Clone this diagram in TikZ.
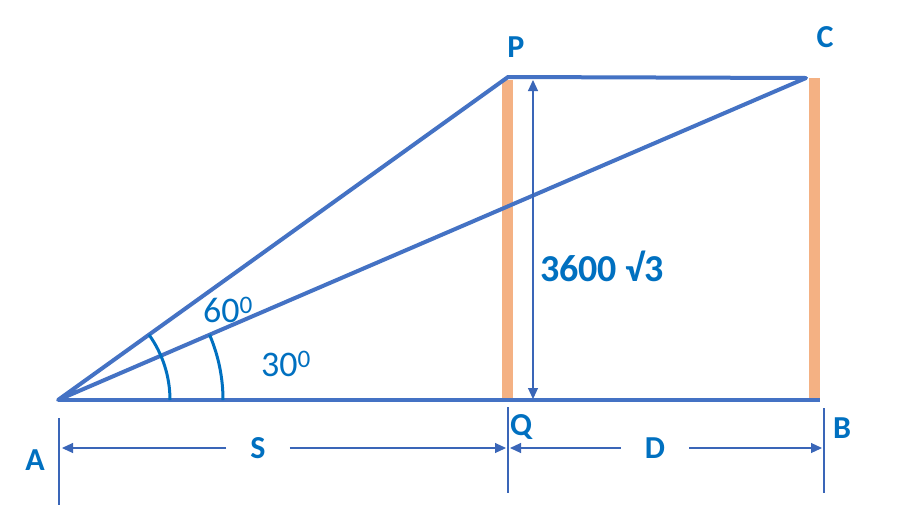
\documentclass[tikz,border=0pt]{standalone}
\usepackage{fontspec}
\setmainfont{Carlito}
\usetikzlibrary{arrows.meta}
\definecolor{lineblue}{HTML}{4472C4}
\definecolor{textblue}{HTML}{0070C0}
\definecolor{barorange}{HTML}{F4B183}
\definecolor{dimblue}{HTML}{3A66B8}
\tikzset{
  geo/.style={draw=lineblue, line width=4pt, line join=round},
  bar/.style={draw=barorange, line width=11pt},
  dim/.style={draw=dimblue, line width=1.1pt},
  tipdim/.style={-{Triangle[length=11pt,width=10pt]}},
  ext/.style={draw=dimblue, line width=1.1pt},
  anglearc/.style={draw=textblue, line width=3pt},
  lbl/.style={text=textblue, font=\fontsize{32}{38}\selectfont\bfseries, inner sep=0pt},
  anglbl/.style={text=textblue, font=\fontsize{36}{42}\selectfont, inner sep=0pt},
}
\begin{document}
\begin{tikzpicture}[x=1pt,y=-1pt]
\useasboundingbox[fill=white] (0,0) rectangle (900,528);
% key points
\coordinate (A) at (58,400);
\coordinate (P) at (508,77);
\coordinate (C) at (806,78);
\coordinate (Q) at (508,400);
\coordinate (B) at (820,400);
% orange bars
\coordinate (PbarT) at (507.5,80);
\coordinate (PbarB) at (507.5,399);
\coordinate (CbarT) at (814,78);
\coordinate (CbarB) at (814,398);
\draw[bar] (PbarT) -- (PbarB);
\draw[bar] (CbarT) -- (CbarB);
% geometry
\draw[geo] (A) -- (P) -- (C) -- cycle;
\draw[geo] (A) -- (B);
% angle arcs
\draw[anglearc] ([shift={(112,0)}]A) arc[start angle=0, end angle=-35.7, radius=112];
\draw[anglearc] ([shift={(165,0)}]A) arc[start angle=0, end angle=-23.3, radius=165];
% vertical dimension
\coordinate (HT) at (533,80);
\coordinate (HB) at (533,399);
\draw[dim, {Triangle[length=11pt,width=10pt]}-{Triangle[length=11pt,width=10pt]}] (HT) -- (HB);
% extension lines
\coordinate (EA1) at (59,418);
\coordinate (EA2) at (59,505);
\coordinate (EQ1) at (508,407);
\coordinate (EQ2) at (508,493);
\coordinate (EB1) at (824,408);
\coordinate (EB2) at (824,493);
\draw[ext] (EA1) -- (EA2);
\draw[ext] (EQ1) -- (EQ2);
\draw[ext] (EB1) -- (EB2);
% labels
\node[lbl] (lP) at (516,47) {P};
\node[lbl] (lC) at (825,37) {C};
\node[lbl] (lA) at (35,460) {A};
\node[lbl] (lQ) at (521,427) {Q};
\node[lbl] (lB) at (842,428) {B};
\node[lbl] (lS) at (258,448) {S};
\node[lbl] (lD) at (655,448) {D};
\node[lbl, font=\fontsize{38}{44}\selectfont\bfseries] (lH) at (602,266) {3600 √3};
\node[anglbl] (l60) at (228,310) {60\textsuperscript{0}};
\node[anglbl] (l30) at (286,364) {30\textsuperscript{0}};
% horizontal dimension lines
\coordinate (SL) at (62,448);
\coordinate (SR) at (506,448);
\coordinate (DL) at (510,448);
\coordinate (DR) at (822,448);
\draw[dim, tipdim] (lS.west) ++(-24,0) -- (SL);
\draw[dim, tipdim] (lS.east) ++(24,0) -- (SR);
\draw[dim, tipdim] (lD.west) ++(-24,0) -- (DL);
\draw[dim, tipdim] (lD.east) ++(24,0) -- (DR);
\end{tikzpicture}
\end{document}
